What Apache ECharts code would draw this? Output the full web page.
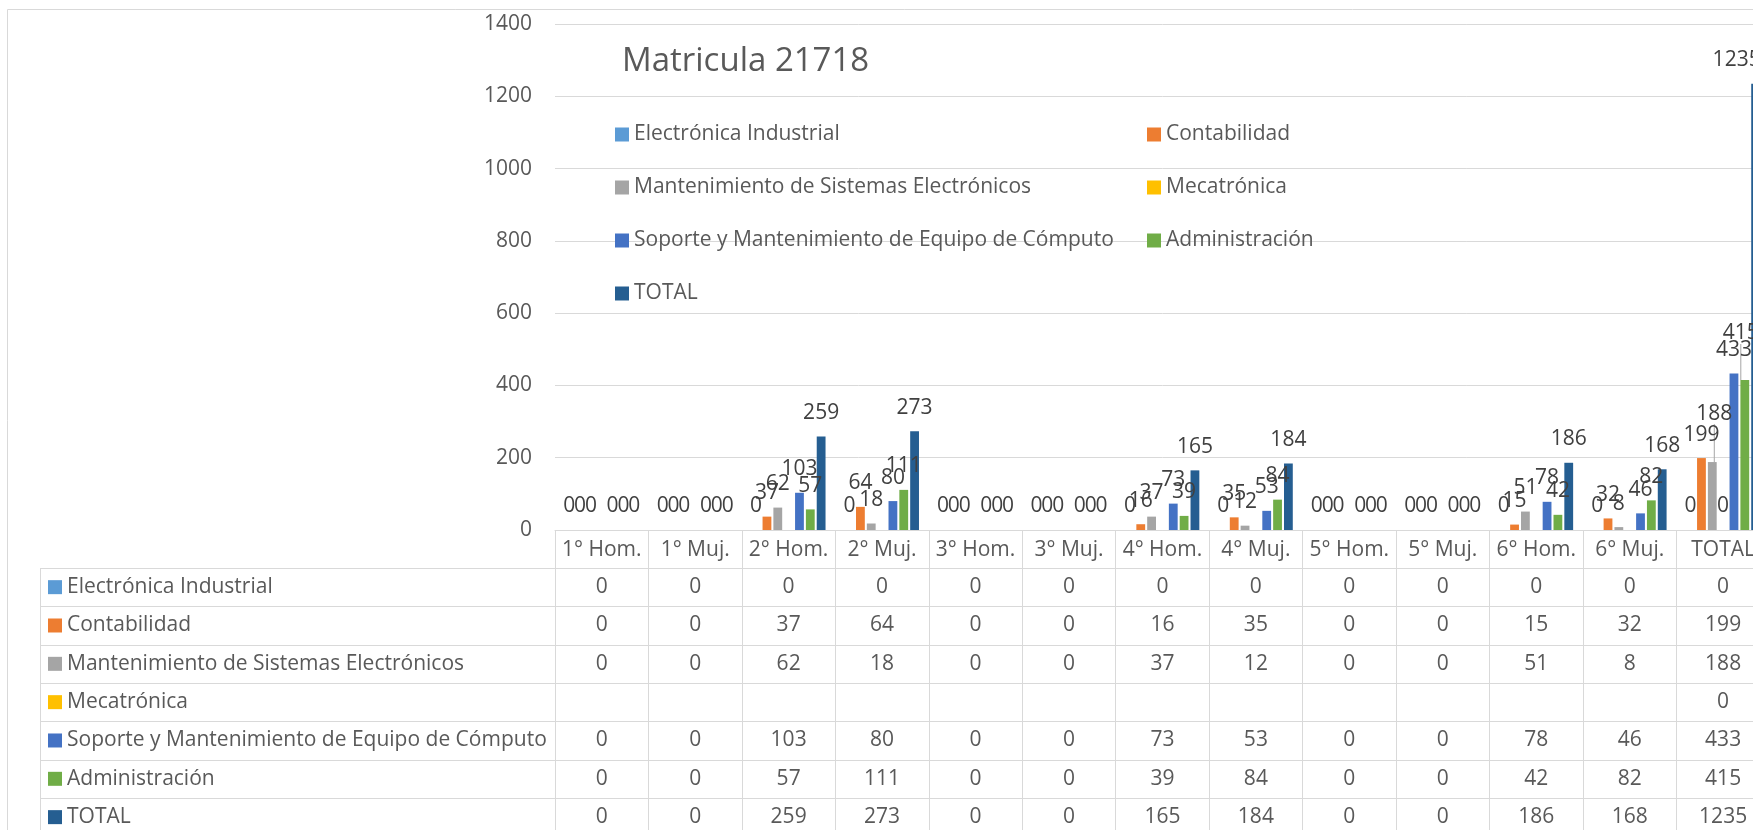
<!DOCTYPE html>
<html>
<head>
<meta charset="utf-8">
<title>Matricula 21718</title>
<script src="https://cdn.jsdelivr.net/npm/echarts@6/dist/echarts.min.js"></script>
<style>
html,body{margin:0;padding:0;overflow:hidden;background:#fff;}
#tu_1{width:1800px;height:830px;}
</style>
</head>
<body>
<div id="tu_1"></div>
<script>
var titulo = 'Matricula 21718';
var categorias = ['1° Hom.','1° Muj.','2° Hom.','2° Muj.','3° Hom.','3° Muj.','4° Hom.','4° Muj.','5° Hom.','5° Muj.','6° Hom.','6° Muj.','TOTAL'];
var nombres = ['Electrónica Industrial','Contabilidad','Mantenimiento de Sistemas Electrónicos','Mecatrónica','Soporte y Mantenimiento de Equipo de Cómputo','Administración','TOTAL'];
var colores = ['#5B9BD5','#ED7D31','#A5A5A5','#FFC000','#4472C4','#70AD47','#255E91'];

var electronica    = [0,0,0,0,0,0,0,0,0,0,0,0,0];
var contabilidad   = [0,0,37,64,0,0,16,35,0,0,15,32,199];
var mantenimiento  = [0,0,62,18,0,0,37,12,0,0,51,8,188];
var mecatronica    = [null,null,null,null,null,null,null,null,null,null,null,null,0];
var soporte        = [0,0,103,80,0,0,73,53,0,0,78,46,433];
var administracion = [0,0,57,111,0,0,39,84,0,0,42,82,415];
var total          = [0,0,259,273,0,0,165,184,0,0,186,168,1235];

var filas = [electronica, contabilidad, mantenimiento, mecatronica, soporte, administracion, total];

// eje y: min, max, intervalo
var ejeMin = 0, ejeMax = 1400, ejeIntervalo = 200;

// medidas del grafico (px)
var X0 = 555, Y0 = 530, ARRIBA = 24, ANCHO_CAT = 93.45;
var ALTO_ENC = 38, ALTO_FILA = 38.33, X_TABLA = 40;
var FUENTE = 'Open Sans', GRIS = '#595959', LINEA = '#d9d9d9', TAM = 21;

// etiquetas que Excel movio en la columna TOTAL
var movidas = {2:{dx:2,dy:-25}, 5:{dx:-4,dy:-23}, 6:{dx:-19,dy:0}};

var myChart_1;
window.onresize = function(){ if(myChart_1){ myChart_1.resize(); } };

function a1(){
	myChart_1 = echarts.init(document.getElementById('tu_1'));

	var series = [];
	nombres.forEach(function(n, s){
		var datos = filas[s].map(function(v, i){
			if(i === 12 && (s === 2 || s === 5)){
				return {value:v, labelLine:{show:true}};
			}
			return v;
		});
		series.push({
			name: n,
			type: 'bar',
			xAxisIndex: 0,
			data: datos,
			barCategoryGap: '21%',
			barGap: '23%',
			itemStyle: {color: colores[s]},
			label: {show:true, position:'top', distance:13, fontSize:TAM, color:'#404040', fontFamily:FUENTE},
			labelLine: {show:false, lineStyle:{color:'#a6a6a6', width:1}},
			labelLayout: function(p){
				if(p.dataIndex === 12 && movidas[p.seriesIndex]){
					return movidas[p.seriesIndex];
				}
			}
		});
	});

	// eje de categorias (encabezado de la tabla)
	var ejesX = [{
		type: 'category',
		gridIndex: 0,
		data: categorias,
		position: 'bottom',
		axisLine: {show:true, lineStyle:{color:LINEA}},
		axisTick: {show:true, interval:0, length:320, lineStyle:{color:LINEA}},
		axisLabel: {interval:0, margin:20, verticalAlign:'middle', fontSize:TAM, color:GRIS, fontFamily:FUENTE}
	}];
	// una fila de la tabla por serie
	filas.forEach(function(fila, r){
		ejesX.push({
			type: 'category',
			gridIndex: 0,
			data: categorias,
			position: 'bottom',
			offset: ALTO_ENC + r*ALTO_FILA,
			axisLine: {show:false},
			axisTick: {show:false},
			splitLine: {show:false},
			axisLabel: {
				interval: 0,
				margin: ALTO_FILA/2,
				verticalAlign: 'middle',
				fontSize: TAM,
				color: GRIS,
				fontFamily: FUENTE,
				formatter: function(v, i){ return fila[i] == null ? '' : String(fila[i]); }
			},
			name: '{sq|}{t|' + nombres[r] + '}',
			nameLocation: 'start',
			nameGap: X0 - 48,
			nameMoveOverlap: false,
			nameTextStyle: {
				align: 'left',
				verticalAlign: 'middle',
				padding: [ALTO_FILA, 0, 0, 0],
				rich: {
					sq: {width:14, height:14, backgroundColor:colores[r], verticalAlign:'middle'},
					t: {fontSize:TAM, color:GRIS, fontFamily:FUENTE, padding:[0,0,0,5], verticalAlign:'middle'}
				}
			}
		});
	});

	// bordes de la tabla y del area del grafico
	var lineas = [{
		type:'rect', silent:true,
		shape:{x:7.5, y:9.5, width:3000, height:2000},
		style:{fill:'none', stroke:LINEA, lineWidth:1}
	}];
	var yTabla = Y0 + ALTO_ENC;
	lineas.push({type:'line', silent:true, shape:{x1:X_TABLA+0.5, y1:yTabla, x2:X_TABLA+0.5, y2:900}, style:{stroke:LINEA, lineWidth:1}});
	for(var k=0; k<8; k++){
		var yy = Math.round(yTabla + k*ALTO_FILA) + 0.5;
		lineas.push({type:'line', silent:true, shape:{x1:X_TABLA, y1:yy, x2:1800, y2:yy}, style:{stroke:LINEA, lineWidth:1}});
	}

	var leyenda = {
		orient: 'vertical',
		top: 119,
		itemWidth: 14, itemHeight: 14, itemGap: 32,
		icon: 'rect',
		textStyle: {fontSize:TAM, color:GRIS, fontFamily:FUENTE}
	};

	var option = {
		animation: false,
		textStyle: {fontFamily: FUENTE},
		title: {
			text: titulo,
			left: 617,
			top: 40,
			textStyle: {fontSize:33, fontWeight:'normal', color:GRIS, fontFamily:FUENTE}
		},
		legend: [
			Object.assign({}, leyenda, {left:610, data:[nombres[0], nombres[2], nombres[4], nombres[6]]}),
			Object.assign({}, leyenda, {left:1142, data:[nombres[1], nombres[3], nombres[5]]})
		],
		grid: {
			left: X0,
			top: ARRIBA,
			width: ANCHO_CAT*categorias.length,
			height: Y0 - ARRIBA,
			containLabel: false,
			outerBoundsMode: 'none'
		},
		xAxis: ejesX,
		yAxis: {
			type: 'value',
			min: ejeMin,
			max: ejeMax,
			interval: ejeIntervalo,
			axisLine: {show:false},
			axisTick: {show:false},
			axisLabel: {margin:23, fontSize:TAM, color:GRIS, fontFamily:FUENTE, formatter: function(v){ return String(v); }},
			splitLine: {lineStyle:{color:LINEA}}
		},
		graphic: lineas,
		series: series
	};
	myChart_1.setOption(option);
}
a1();
</script>
</body>
</html>
